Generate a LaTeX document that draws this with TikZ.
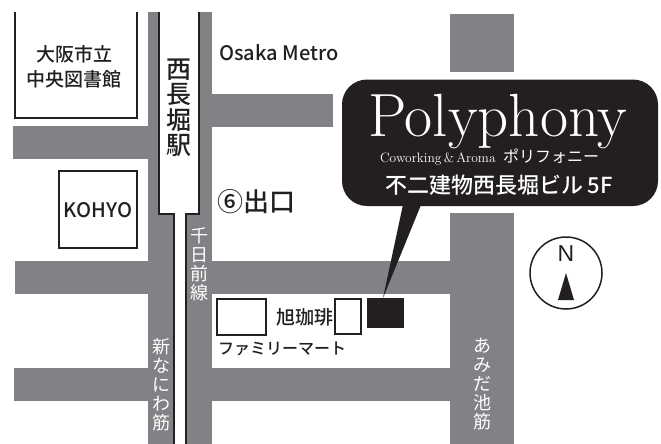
\documentclass[tikz,border=0pt]{standalone}
\usepackage{fontspec}
\newfontfamily\jp{Noto Sans CJK JP}
\newfontfamily\jpm{Noto Sans CJK JP Medium}
\newfontfamily\nfont{Liberation Sans}
\definecolor{road}{HTML}{808285}
\definecolor{ink}{HTML}{231F20}
\tikzset{
  roadfill/.style={fill=road,draw=none},
  outline/.style={draw=ink,line width=2pt,fill=white},
  lbl/.style={inner sep=0pt,outer sep=0pt,text=ink,align=center},
  rev/.style={inner sep=0pt,outer sep=0pt,text=white,align=center},
}
\newcommand{\fs}[2]{\jp\fontsize{#1}{#2}\selectfont}
\newcommand{\fm}[2]{\jpm\fontsize{#1}{#2}\selectfont}
\begin{document}
\begin{tikzpicture}[x=1pt,y=-1pt]
\useasboundingbox (0,0) rectangle (661,444);
\fill[white] (0,0) rectangle (661,444);
% roads
\fill[roadfill] (148,12) rectangle (212,444);
\fill[roadfill] (13,126) rectangle (148,159);
\fill[roadfill] (212,94) rectangle (333,127);
\fill[roadfill] (15,261) rectangle (148,294);
\fill[roadfill] (212,261) rectangle (450,294);
\fill[roadfill] (14,368) rectangle (148,401);
\fill[roadfill] (212,368) rectangle (450,401);
\fill[roadfill] (450,14) rectangle (514,72);
\fill[roadfill] (450,213) rectangle (514,444);
% station / railway
\fill[white] (159,12) -- (159,214) -- (174,214) -- (174,444) -- (185.5,444) -- (185.5,214) -- (199,214) -- (199,12) -- cycle;
\draw[ink,line width=2pt] (159,12) -- (159,214) -- (174,214) -- (174,444);
\draw[ink,line width=2pt] (199,12) -- (199,214) -- (185.5,214) -- (185.5,444);
% buildings
\draw[ink,line width=2pt] (15,12) -- (15,117.5) -- (137,117.5) -- (137,12);
\node[outline,minimum width=78pt,minimum height=77pt,inner sep=0pt] (kohyo) at (98,209.5) {};
\node[outline,minimum width=49pt,minimum height=36pt,inner sep=0pt] (fmart) at (241.5,317) {};
\node[outline,minimum width=26pt,minimum height=35pt,inner sep=0pt] (cafe) at (347.5,316.5) {};
\node[fill=ink,minimum width=37pt,minimum height=30pt,inner sep=0pt] (target) at (385.5,313) {};
% bubble
\fill[ink] (383,298) -- (404,200) -- (423,200) -- cycle;
\fill[ink,rounded corners=25pt] (342,79.5) rectangle (658,206);
% bubble text
\node[anchor=base west,inner sep=0pt,text=white,font=\fontsize{61}{61}\selectfont\addfontfeatures{FakeBold=0.25}] (poly) at (368,136) {Polyphony};
\node[anchor=base west,inner sep=0pt,text=white,font=\fontsize{13.5}{13.5}\selectfont] (cw) at (380,162) {Coworking\,\&\,Aroma};
\node[anchor=base west,inner sep=0pt,text=white,font=\fs{16}{16}] (kana) at (503,162) {ポリフォニー};
\node[rev,font=\fm{22}{22}] (bldg) at (499,185) {不二建物西長堀ビル 5F};
% labels
\node[lbl,font=\fm{19}{25}] (lib) at (74,66.5) {大阪市立\\中央図書館};
\node[lbl,font=\fm{25}{25.5}] (sta) at (179,108) {西\\長\\堀\\駅};
\node[lbl,anchor=base west,font=\fm{20}{20}] (metro) at (219,60) {Osaka Metro};
\node[lbl,anchor=west,font=\fm{26}{26}] (exit) at (217,202) {⑥出口};
\node[lbl,anchor=base,font=\fm{20}{20}] (koh) at (98,217) {KOHYO};
\node[rev,font=\fs{18}{19}] (sen) at (199,264.5) {千\\日\\前\\線};
\node[rev,font=\fs{18}{19}] (nan) at (161,384.5) {新\\な\\に\\わ\\筋};
\node[rev,font=\fs{18}{19}] (ami) at (482,384.5) {あ\\み\\だ\\池\\筋};
\node[lbl,anchor=west,font=\fm{19}{19}] (asahi) at (276,317) {旭珈琲};
\node[lbl,anchor=west,font=\fm{16}{16}] (fmt) at (218,349) {ファミリーマート};
% compass
\node[draw=ink,line width=1.5pt,circle,minimum size=72pt,inner sep=0pt] (comp) at (566,273) {};
\node[lbl,font=\nfont\fontsize{23}{23}\selectfont] (n) at (566,254) {N};
\fill[ink] (566,273) -- (574,300) -- (558,300) -- cycle;
\end{tikzpicture}
\end{document}
